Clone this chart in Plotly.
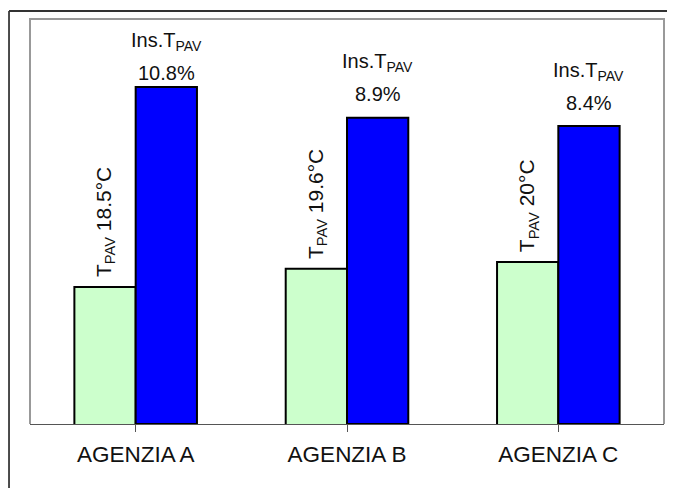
import plotly.graph_objects as go

# ---- data ----
categories = ["AGENZIA A", "AGENZIA B", "AGENZIA C"]
t_pav = [18.5, 19.6, 20.0]          # °C  (light green bars)
ins_t_pav = [10.8, 8.9, 8.4]        # %   (blue bars)

# ---- styling / layout constants ----
FONT = "Liberation Sans, Arial, sans-serif"
GREEN = "#CCFFCC"
BLUE = "#0000FF"
BAR_W = 0.29
Y1_RANGE = [10.3, 34.55]
Y2_RANGE = [-9.94, 14.98]
pct_shift = [1, 11, 10]     # vertical offsets of percentage labels (px)

x_idx = list(range(len(categories)))

fig = go.Figure()
fig.add_trace(go.Bar(
    x=x_idx, y=t_pav, yaxis="y",
    width=BAR_W, offset=-BAR_W,
    marker=dict(color=GREEN, line=dict(color="black", width=2)),
    name="T_PAV", showlegend=False,
))
fig.add_trace(go.Bar(
    x=x_idx, y=[v - Y2_RANGE[0] for v in ins_t_pav], base=Y2_RANGE[0],
    yaxis="y2",
    width=BAR_W, offset=0,
    marker=dict(color=BLUE, line=dict(color="black", width=2)),
    name="Ins.T_PAV", showlegend=False,
))

annotations = []
for i, (t, p) in enumerate(zip(t_pav, ins_t_pav)):
    annotations.append(dict(
        x=i - BAR_W / 2, y=t, xref="x", yref="y",
        text=f"T<sub>PAV</sub> {t:g}°C", textangle=-90,
        showarrow=False, xanchor="center", yanchor="bottom", yshift=8,
        font=dict(family=FONT, size=21, color="#111"),
    ))
    annotations.append(dict(
        x=i + BAR_W / 2, y=p, xref="x", yref="y2",
        text=f"{p:g}%", showarrow=False,
        xanchor="center", yanchor="bottom", yshift=pct_shift[i],
        font=dict(family=FONT, size=20, color="#111"),
    ))
    annotations.append(dict(
        x=i + BAR_W / 2, y=p, xref="x", yref="y2",
        text="Ins.T<sub>PAV</sub>", showarrow=False,
        xanchor="center", yanchor="bottom", yshift=pct_shift[i] + 30,
        font=dict(family=FONT, size=20, color="#111"),
    ))

shapes = [
    # plot-area border (left, top, right), gray
    dict(type="path", xref="paper", yref="paper",
         path="M 0,0 L 0,1 L 1,1 L 1,0",
         line=dict(color="#999999", width=2), layer="below"),
    # outer chart border (left + top visible)
    dict(type="line", xref="paper", yref="paper",
         x0=-0.0331, x1=-0.0331, y0=-0.2, y1=1.0198,
         line=dict(color="#111111", width=1.5)),
    dict(type="line", xref="paper", yref="paper",
         x0=-0.0331, x1=1.05, y0=1.0198, y1=1.0198,
         line=dict(color="#333333", width=2)),
]

# page body has an 8px margin: size and margins compensate for it
fig.update_layout(
    width=667, height=480,
    margin=dict(l=22, r=11, t=11, b=64),
    paper_bgcolor="white", plot_bgcolor="white",
    barmode="overlay",
    xaxis=dict(
        tickmode="array", tickvals=x_idx, ticktext=categories,
        range=[-0.5, 2.5], showline=True, linecolor="#555555", linewidth=1,
        ticks="outside", ticklen=7, tickcolor="#555555", tickson="boundaries",
        ticklabelstandoff=3,
        showgrid=False, zeroline=False,
        tickfont=dict(family=FONT, size=22.5, color="#111"),
    ),
    yaxis=dict(range=Y1_RANGE, visible=False, showgrid=False, fixedrange=True),
    yaxis2=dict(range=Y2_RANGE, overlaying="y", visible=False, showgrid=False),
    annotations=annotations,
    shapes=shapes,
)

fig.write_html("out.html")
